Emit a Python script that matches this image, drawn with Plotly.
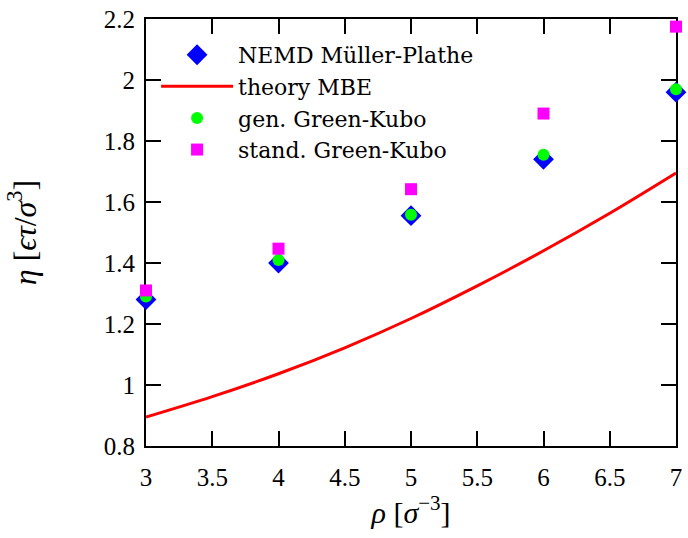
import plotly.graph_objects as go

rho = [3, 4, 5, 6, 7]
nemd = [1.28, 1.40, 1.555, 1.74, 1.96]
gen_gk = [1.29, 1.41, 1.558, 1.755, 1.97]
stand_gk = [1.31, 1.447, 1.642, 1.89, 2.175]

rho_theory = [3, 3.5, 4, 4.5, 5, 5.5, 6, 6.5, 7]
eta_theory = [0.895, 0.962, 1.037, 1.122, 1.218, 1.325, 1.44, 1.563, 1.695]

x_ticks = [3, 3.5, 4, 4.5, 5, 5.5, 6, 6.5, 7]
y_ticks = [0.8, 1, 1.2, 1.4, 1.6, 1.8, 2, 2.2]

FONT = "Liberation Serif"
LFONT = "DejaVu Serif"

fig = go.Figure()
fig.add_trace(go.Scatter(x=rho, y=nemd, mode="markers", name="NEMD Müller-Plathe",
                         marker=dict(symbol="diamond", size=16, color="#0000ff"), cliponaxis=False))
fig.add_trace(go.Scatter(x=rho_theory, y=eta_theory, mode="lines", name="theory MBE",
                         line=dict(color="#ff0000", width=3, shape="spline"), cliponaxis=False))
fig.add_trace(go.Scatter(x=rho, y=gen_gk, mode="markers", name="gen. Green-Kubo",
                         marker=dict(symbol="circle", size=12, color="#00ff00"), cliponaxis=False))
fig.add_trace(go.Scatter(x=rho, y=stand_gk, mode="markers", name="stand. Green-Kubo",
                         marker=dict(symbol="square", size=12, color="#ff00ff"), cliponaxis=False))

fig.update_layout(
    width=688, height=538,
    margin=dict(l=146, r=6, t=18, b=92),
    paper_bgcolor="white", plot_bgcolor="white",
    font=dict(family=FONT, color="black", size=22),
    showlegend=True,
    legend=dict(x=0.019, y=0.965, xanchor="left", yanchor="top", bgcolor="rgba(0,0,0,0)",
                font=dict(family=LFONT, size=22, color="black"), tracegroupgap=0,
                itemwidth=72),
)

fig.update_xaxes(range=[3, 7], tickmode="array", tickvals=x_ticks, ticktext=[f"{v:g}" for v in x_ticks],
                 ticklabelstandoff=8,
                 title=dict(text="<i>ρ</i> [<i>σ</i><sup>−3</sup>]", font=dict(family=FONT, size=30), standoff=10))
fig.update_yaxes(range=[0.8, 2.2], tickmode="array", tickvals=y_ticks, ticktext=[f"{v:g}" for v in y_ticks],
                 ticklabelstandoff=4,
                 title=dict(text="<i>η</i> [<i>ϵτ</i>/<i>σ</i><sup>3</sup>]", font=dict(family=FONT, size=32), standoff=58))
fig.update_xaxes(showgrid=False, zeroline=False, showline=True, linecolor="black", linewidth=2,
                 mirror="ticks", ticks="inside", ticklen=15, tickwidth=2, tickcolor="black",
                 layer="below traces", tickfont_family=FONT, tickfont_size=25, tickfont_color="black")
fig.update_yaxes(showgrid=False, zeroline=False, showline=True, linecolor="black", linewidth=2,
                 mirror="ticks", ticks="inside", ticklen=15, tickwidth=2, tickcolor="black",
                 layer="below traces", tickfont_family=FONT, tickfont_size=25, tickfont_color="black")

fig.write_html("out.html")
